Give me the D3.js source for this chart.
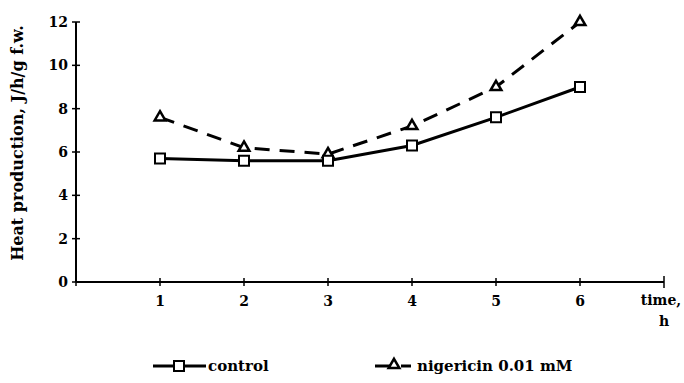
<!DOCTYPE html>
<html>
<head>
<meta charset="utf-8">
<script src="https://cdn.jsdelivr.net/npm/d3@7"></script>
<style>
    body { margin: 0; background: #fff; }
    svg text { font-family: 'DejaVu Serif', 'Liberation Serif', serif; font-weight: bold; fill: #000; }
</style>
</head>
<body>
<svg id="chart" width="684" height="383"></svg>
<script>
const hours = [1, 2, 3, 4, 5, 6];
const controlValues = [5.7, 5.6, 5.6, 6.3, 7.6, 9.0];
const nigericinValues = [7.6, 6.2, 5.9, 7.2, 9.0, 12.0];
const yTicks = [0, 2, 4, 6, 8, 10, 12];
const xTicks = [0, 1, 2, 3, 4, 5, 6, 7];

const svg = d3.select('#chart');

const x = d3.scaleLinear().domain([0, 7]).range([76, 664]);
const y = d3.scaleLinear().domain([0, 12]).range([282, 22]);

// axes, drawn by hand to get the crossing ticks of the original
const yAxis = svg.append('g');
yAxis.append('line')
    .attr('x1', x(0)).attr('x2', x(0))
    .attr('y1', y(0)).attr('y2', y(12))
    .attr('stroke', '#000').attr('stroke-width', 2);
yAxis.selectAll('.tick')
    .data(yTicks)
    .enter()
    .append('line')
    .attr('x1', x(0) - 4).attr('x2', x(0) + 4)
    .attr('y1', d => y(d)).attr('y2', d => y(d))
    .attr('stroke', '#000').attr('stroke-width', 1.5);
yAxis.selectAll('text')
    .data(yTicks)
    .enter()
    .append('text')
    .attr('x', x(0) - 8)
    .attr('y', d => y(d))
    .attr('dy', '0.35em')
    .attr('text-anchor', 'end')
    .style('font-size', '14px')
    .text(d => d);

const xAxis = svg.append('g');
xAxis.append('line')
    .attr('x1', x(0)).attr('x2', x(7))
    .attr('y1', y(0)).attr('y2', y(0))
    .attr('stroke', '#000').attr('stroke-width', 2);
xAxis.selectAll('.tick')
    .data(xTicks)
    .enter()
    .append('line')
    .attr('x1', d => x(d)).attr('x2', d => x(d))
    .attr('y1', d => y(0) - (d === 7 ? 6 : 4))
    .attr('y2', d => y(0) + (d === 7 ? 6 : 4))
    .attr('stroke', '#000').attr('stroke-width', 1.5);
xAxis.selectAll('text')
    .data(hours)
    .enter()
    .append('text')
    .attr('x', d => x(d))
    .attr('y', 306)
    .attr('text-anchor', 'middle')
    .style('font-size', '14px')
    .text(d => d);

svg.append('text')
    .attr('x', 661).attr('y', 305)
    .attr('text-anchor', 'middle')
    .style('font-size', '14px')
    .text('time,');
svg.append('text')
    .attr('x', 664).attr('y', 326)
    .attr('text-anchor', 'middle')
    .style('font-size', '14px')
    .text('h');

svg.append('text')
    .attr('transform', 'translate(23 143) rotate(-90)')
    .attr('text-anchor', 'middle')
    .style('font-size', '16px')
    .text('Heat production, J/h/g f.w.');

// lines
const line = d3.line()
    .x((d, i) => x(hours[i]))
    .y(d => y(d));

svg.append('path')
    .datum(nigericinValues)
    .attr('d', line)
    .attr('fill', 'none')
    .attr('stroke', '#000')
    .attr('stroke-width', 3)
    .attr('stroke-dasharray', '15 10');

svg.append('path')
    .datum(controlValues)
    .attr('d', line)
    .attr('fill', 'none')
    .attr('stroke', '#000')
    .attr('stroke-width', 3);

const triangle = d3.symbol().type(d3.symbolTriangle).size(50);
const square = d3.symbol().type(d3.symbolSquare).size(100);

svg.selectAll('.tri')
    .data(nigericinValues)
    .enter()
    .append('path')
    .attr('class', 'tri')
    .attr('d', triangle)
    .attr('transform', (d, i) => `translate(${x(hours[i])} ${y(d)})`)
    .attr('fill', '#fff')
    .attr('stroke', '#000')
    .attr('stroke-width', 2.5);

svg.selectAll('.sq')
    .data(controlValues)
    .enter()
    .append('path')
    .attr('class', 'sq')
    .attr('d', square)
    .attr('transform', (d, i) => `translate(${x(hours[i])} ${y(d)})`)
    .attr('fill', '#fff')
    .attr('stroke', '#000')
    .attr('stroke-width', 2);

// legend
const legend = svg.append('g').attr('transform', 'translate(0 366)');
legend.append('line')
    .attr('x1', 153).attr('x2', 206).attr('y1', 0).attr('y2', 0)
    .attr('stroke', '#000').attr('stroke-width', 3);
legend.append('path')
    .attr('d', square)
    .attr('transform', 'translate(179 0)')
    .attr('fill', '#fff').attr('stroke', '#000').attr('stroke-width', 2);
legend.append('text')
    .attr('x', 208).attr('y', 0).attr('dy', '0.35em')
    .style('font-size', '15px')
    .text('control');

legend.append('line')
    .attr('x1', 375).attr('x2', 390).attr('y1', 0).attr('y2', 0)
    .attr('stroke', '#000').attr('stroke-width', 3);
legend.append('line')
    .attr('x1', 401).attr('x2', 411).attr('y1', 0).attr('y2', 0)
    .attr('stroke', '#000').attr('stroke-width', 3);
legend.append('path')
    .attr('d', triangle)
    .attr('transform', 'translate(394 -1)')
    .attr('fill', '#fff').attr('stroke', '#000').attr('stroke-width', 2.5);
legend.append('text')
    .attr('x', 417).attr('y', 0).attr('dy', '0.35em')
    .style('font-size', '15px')
    .text('nigericin 0.01 mM');
</script>
</body>
</html>
